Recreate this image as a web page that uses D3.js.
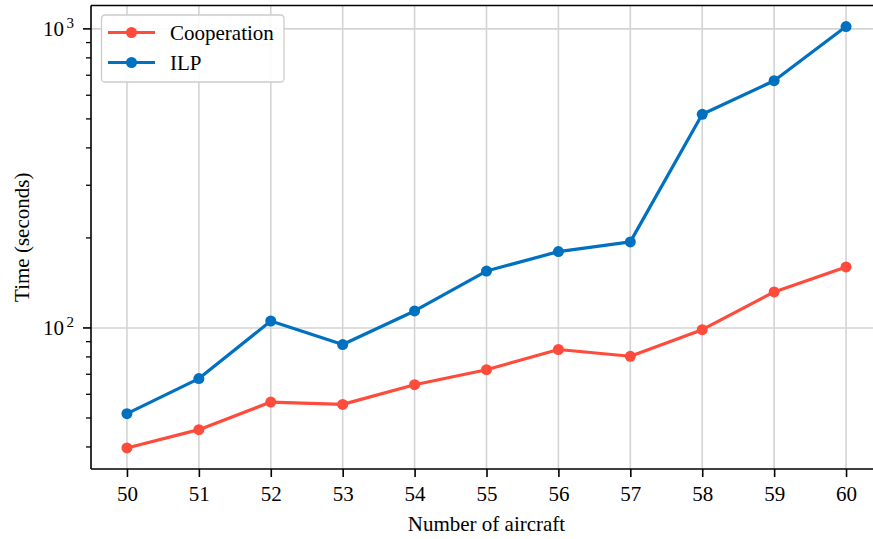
<!DOCTYPE html>
<html>
<head>
<meta charset="utf-8">
<script src="https://cdn.jsdelivr.net/npm/d3@7"></script>
<style>
  html, body { margin: 0; padding: 0; background: #fff; }
  svg { display: block; }
  text { font-family: "Liberation Serif", "DejaVu Serif", serif; fill: #000; }
</style>
</head>
<body>
<svg id="chart" width="873" height="539"></svg>
<script>
// Solve time versus number of aircraft, log-scaled
const aircraft = [50, 51, 52, 53, 54, 55, 56, 57, 58, 59, 60];
const cooperation = [39.7, 45.7, 56.5, 55.5, 64.6, 72.5, 84.7, 80.4, 98.7, 132, 160];
const ilp = [51.7, 67.7, 105.5, 88.0, 114, 155, 180, 194, 518, 671, 1018];
const seriesNames = ["Cooperation", "ILP"];
const seriesColors = ["#ff4b3b", "#0070c0"];
const yMajorTicks = [100, 1000];
const yTickExponents = ["2", "3"];

const W = 873, H = 539;
const plot = { left: 91, right: 882, top: 5.5, bottom: 469 };

const svg = d3.select("#chart");

const x = d3.scaleLinear()
  .domain([d3.min(aircraft) - 0.5, d3.max(aircraft) + 0.5])
  .range([plot.left, plot.right]);

// 5% padding in log space on each side
const allVals = cooperation.concat(ilp);
const lo = Math.log10(d3.min(allVals)), hi = Math.log10(d3.max(allVals));
const pad = (hi - lo) * 0.05;
const y = d3.scaleLog()
  .domain([Math.pow(10, lo - pad), Math.pow(10, hi + pad)])
  .range([plot.bottom, plot.top]);

// grid
const grid = svg.append("g");
grid.selectAll("line.gx").data(aircraft).join("line")
  .attr("x1", d => x(d)).attr("x2", d => x(d))
  .attr("y1", plot.top).attr("y2", plot.bottom)
  .attr("stroke", "#d4d4d4").attr("stroke-width", 1.6);
grid.selectAll("line.gy").data(yMajorTicks).join("line")
  .attr("x1", plot.left).attr("x2", plot.right)
  .attr("y1", d => y(d)).attr("y2", d => y(d))
  .attr("stroke", "#d4d4d4").attr("stroke-width", 1.6);

// x axis
const xAxis = d3.axisBottom(x).tickValues(aircraft).tickSize(8).tickPadding(9);
const gx = svg.append("g").attr("transform", `translate(0,${plot.bottom})`).call(xAxis);
gx.select(".domain").remove();
gx.selectAll(".tick line").attr("stroke", "#000").attr("stroke-width", 1.6);
gx.selectAll(".tick text").style("font-size", "21px").style("font-family", '"Liberation Serif", serif');

// y axis: minor ticks
const [d0, d1] = y.domain();
const minor = [];
for (let e = Math.floor(Math.log10(d0)); e <= Math.ceil(Math.log10(d1)); e++) {
  for (let m = 2; m <= 9; m++) {
    const v = m * Math.pow(10, e);
    if (v >= d0 && v <= d1) minor.push(v);
  }
}
svg.append("g").selectAll("line").data(minor).join("line")
  .attr("x1", plot.left - 5).attr("x2", plot.left)
  .attr("y1", d => y(d)).attr("y2", d => y(d))
  .attr("stroke", "#000").attr("stroke-width", 1.3);

const gy = svg.append("g");
gy.selectAll("line").data(yMajorTicks).join("line")
  .attr("x1", plot.left - 8).attr("x2", plot.left)
  .attr("y1", d => y(d)).attr("y2", d => y(d))
  .attr("stroke", "#000").attr("stroke-width", 1.6);
const yl = gy.selectAll("text").data(yMajorTicks).join("text")
  .attr("x", plot.left - 27).attr("y", d => y(d) + 7)
  .attr("text-anchor", "end")
  .style("font-size", "21px")
  .text("10");
yl.append("tspan")
  .attr("x", plot.left - 27 + 10).attr("y", d => y(d) - 1)
  .attr("text-anchor", "end")
  .style("font-size", "15px")
  .text((d, i) => yTickExponents[i]);

// series
const clip = svg.append("clipPath").attr("id", "plotclip").append("rect")
  .attr("x", plot.left).attr("y", plot.top)
  .attr("width", plot.right - plot.left).attr("height", plot.bottom - plot.top);

const lineGen = d3.line().x((d, i) => x(aircraft[i])).y(d => y(d));
[cooperation, ilp].forEach((vals, s) => {
  const g = svg.append("g");
  g.append("path").datum(vals)
    .attr("d", lineGen)
    .attr("fill", "none")
    .attr("stroke", seriesColors[s])
    .attr("stroke-width", 3.2)
    .attr("stroke-linejoin", "round");
  g.selectAll("circle").data(vals).join("circle")
    .attr("cx", (d, i) => x(aircraft[i]))
    .attr("cy", d => y(d))
    .attr("r", 5.5)
    .attr("fill", seriesColors[s]);
});

// spines
svg.append("line").attr("x1", plot.left).attr("x2", plot.right)
  .attr("y1", plot.top).attr("y2", plot.top).attr("stroke", "#000").attr("stroke-width", 1.6);
svg.append("line").attr("x1", plot.left).attr("x2", plot.right)
  .attr("y1", plot.bottom).attr("y2", plot.bottom).attr("stroke", "#000").attr("stroke-width", 1.6);
svg.append("line").attr("x1", plot.left).attr("x2", plot.left)
  .attr("y1", plot.top).attr("y2", plot.bottom).attr("stroke", "#000").attr("stroke-width", 1.6);

// axis titles
svg.append("text")
  .attr("x", (plot.left + plot.right) / 2).attr("y", 531)
  .attr("text-anchor", "middle").style("font-size", "21px")
  .text("Number of aircraft");
svg.append("text")
  .attr("transform", `translate(29,${(plot.top + plot.bottom) / 2}) rotate(-90)`)
  .attr("text-anchor", "middle").style("font-size", "21px")
  .text("Time (seconds)");

// legend
const lg = svg.append("g");
lg.append("rect")
  .attr("x", 101.5).attr("y", 15).attr("width", 182.5).attr("height", 67)
  .attr("rx", 3.5).attr("fill", "#fff").attr("fill-opacity", 0.9)
  .attr("stroke", "#cccccc").attr("stroke-width", 1.3);
seriesNames.forEach((name, i) => {
  const cy = 32.5 + i * 30;
  lg.append("line").attr("x1", 108).attr("x2", 155).attr("y1", cy).attr("y2", cy)
    .attr("stroke", seriesColors[i]).attr("stroke-width", 3.2);
  lg.append("circle").attr("cx", 131.5).attr("cy", cy).attr("r", 5.5).attr("fill", seriesColors[i]);
  lg.append("text").attr("x", 170).attr("y", cy + 7).style("font-size", "21px").text(name);
});
</script>
</body>
</html>
